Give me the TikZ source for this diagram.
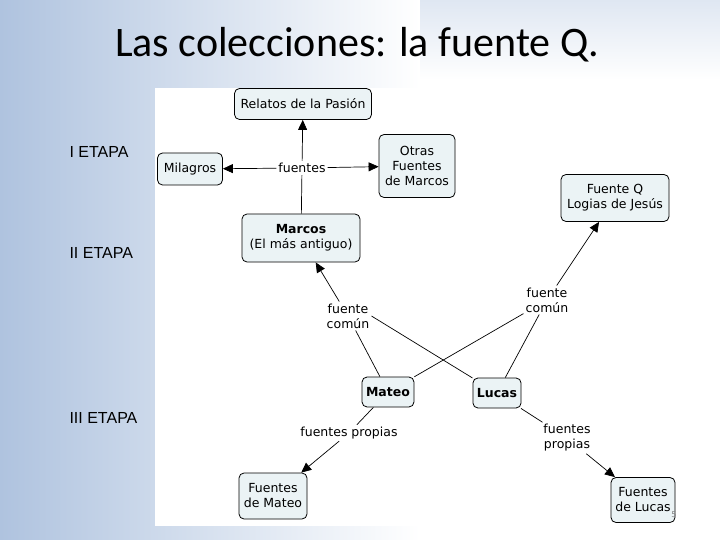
\documentclass[tikz,border=0pt]{standalone}
\usepackage{fontspec}
\setmainfont{DejaVu Sans}
\newfontfamily\titlefont{Carlito}
\newfontfamily\etapafont{Liberation Sans}
\usetikzlibrary{arrows.meta}
\definecolor{bgblue}{HTML}{AFC3DF}
\definecolor{boxfill}{HTML}{EBF3F5}
\tikzset{
  cbox/.style={draw=black, line width=0.8pt, rounded corners=5pt, fill=boxfill, align=center, inner sep=4pt, font=\fontsize{12.5}{15}\selectfont},
  lbl/.style={fill=white, align=center, inner sep=2pt, font=\fontsize{12.5}{15}\selectfont},
  conn/.style={line width=0.7pt},
  arr/.style={conn, -{Triangle[length=10pt,width=9pt]}},
  etapa/.style={anchor=west, font=\etapafont\fontsize{16}{18}\selectfont}
}
\begin{document}
\begin{tikzpicture}[x=1pt,y=-1pt]
\useasboundingbox (0,0) rectangle (720,540);
\fill[white] (0,0) rectangle (720,540);
\shade[left color=bgblue, right color=white] (0,0) rectangle (420,540);
\shade[top color=bgblue!40, bottom color=white] (420,0) rectangle (720,80);
\fill[white] (155,88) rectangle (685,526);
\node[font=\titlefont\fontsize{42}{48}\selectfont] (title) at (357,45) {Las colecciones: la fuente Q.};
\node[etapa] (e1) at (66,152) {I ETAPA};
\node[etapa] (e2) at (66,253) {II ETAPA};
\node[etapa] (e3) at (66,418) {III ETAPA};

\node[cbox, minimum width=137pt, minimum height=31pt] (relatos) at (303,104) {Relatos de la Pasión};
\node[cbox, minimum width=65pt, minimum height=32pt] (milagros) at (190,169) {Milagros};
\node[lbl] (fuentes) at (302,168) {fuentes};
\node[cbox, minimum width=76pt, minimum height=63pt] (otras) at (417,166) {Otras\\Fuentes\\de Marcos};
\node[cbox, minimum width=118pt, minimum height=48pt] (marcos) at (301,238) {\textbf{Marcos}\\(El más antiguo)};
\node[cbox, minimum width=108pt, minimum height=47pt] (q) at (615,198) {Fuente Q\\Logias de Jesús};
\node[lbl] (fcl) at (348,316) {fuente\\común};
\node[lbl] (fcr) at (547,300) {fuente\\común};
\node[cbox, minimum width=47pt, minimum height=30pt] (mateo) at (388,392) {\textbf{Mateo}};
\node[cbox, minimum width=43pt, minimum height=30pt] (lucas) at (497,393) {\textbf{Lucas}};
\node[lbl] (fpl) at (349,433) {fuentes propias};
\node[lbl] (fpr) at (567,438) {fuentes\\propias};
\node[cbox, minimum width=68pt, minimum height=46pt] (fmateo) at (273,496) {Fuentes\\de Mateo};
\node[cbox, minimum width=64pt, minimum height=45pt] (flucas) at (643,500) {Fuentes\\de Lucas};
\node[font=\fontsize{8}{9}\selectfont, text=gray] (num) at (674,515) {5};

\draw[conn] (marcos) -- (fuentes);
\draw[arr] (fuentes) -- (relatos);
\draw[arr] (fuentes) -- (milagros);
\draw[arr] (fuentes) -- (otras);
\draw[conn] (mateo) -- (fcl);
\draw[arr] (fcl) -- (marcos);
\draw[conn] (fcl.east) -- (lucas);
\draw[conn] (mateo) -- (fcr);
\draw[conn] (lucas) -- (fcr);
\draw[arr] (fcr) -- (q);
\draw[conn] (mateo) -- (fpl);
\draw[arr] (fpl) -- (fmateo);
\draw[conn] (lucas) -- (fpr);
\draw[arr] (fpr) -- (flucas);
\end{tikzpicture}
\end{document}
